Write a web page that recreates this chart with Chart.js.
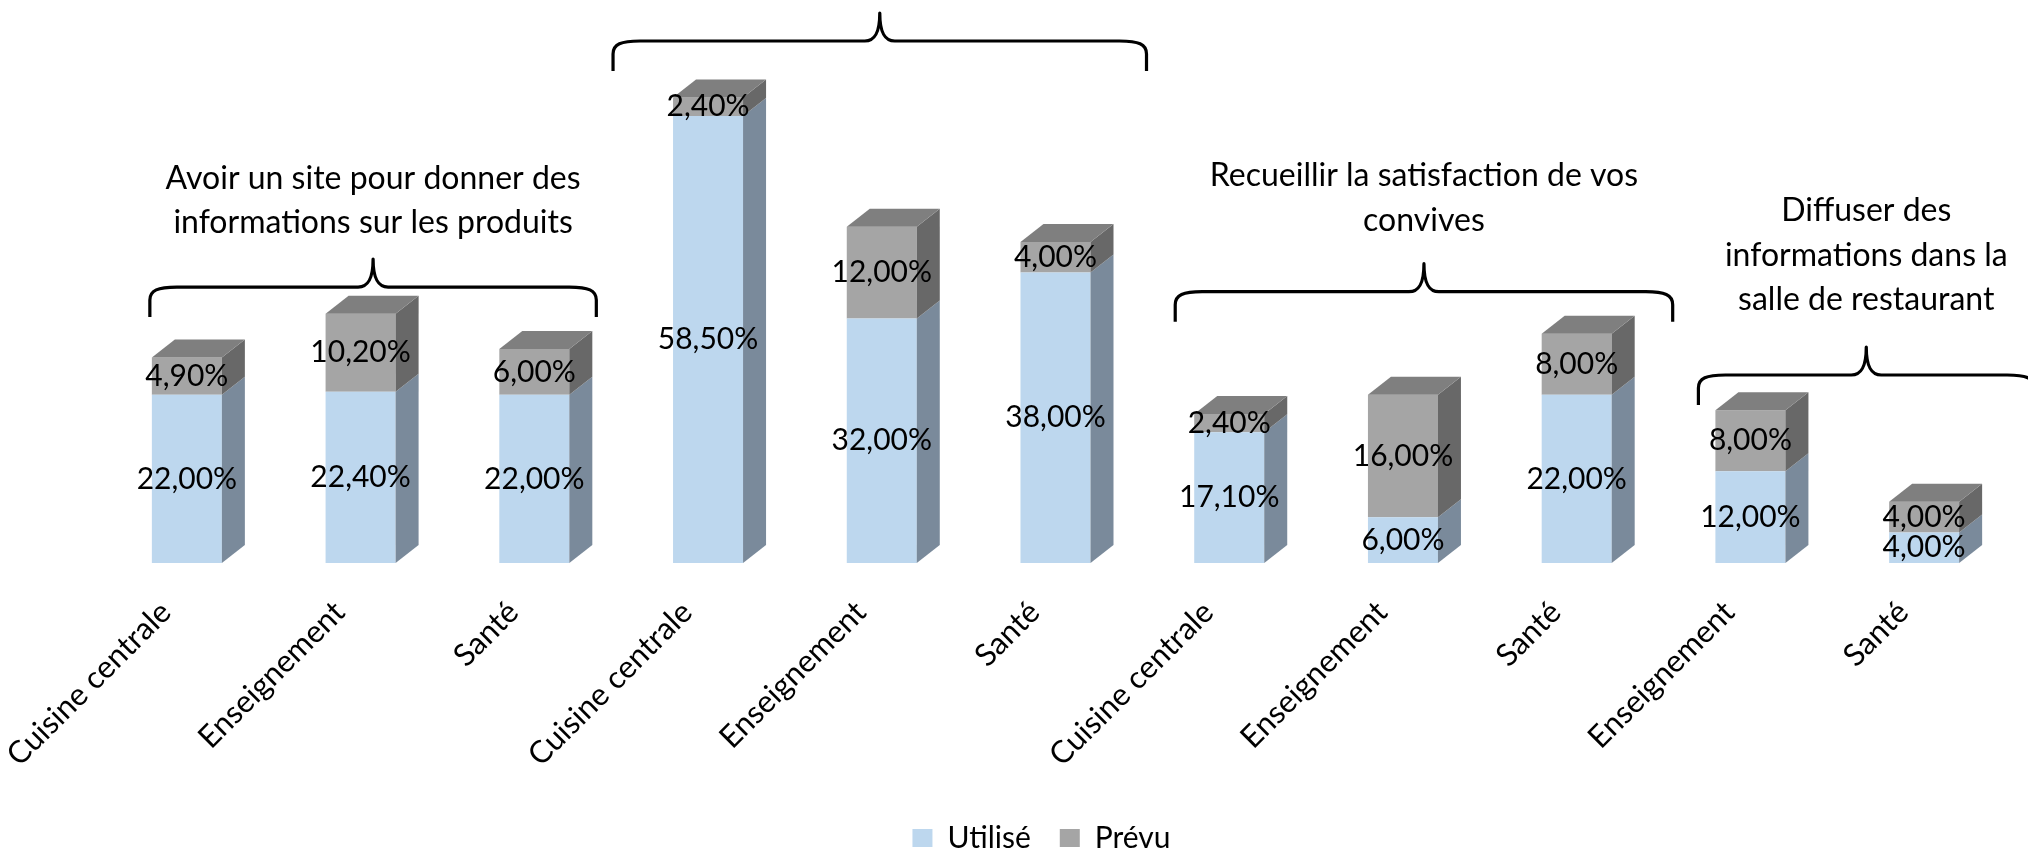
<!DOCTYPE html>
<html lang="fr">
<head>
<meta charset="utf-8">
<title>Utilisé / Prévu</title>
<script src="https://cdn.jsdelivr.net/npm/chart.js@4.4.1/dist/chart.umd.min.js"></script>
<style>
  html, body { margin: 0; padding: 0; background: #ffffff; }
  #wrap { width: 2028px; height: 852px; }
</style>
</head>
<body>
<div id="wrap"><canvas id="chart" width="2028" height="852"></canvas></div>
<script>
// ---- Data -------------------------------------------------------------
const categories = [
  'Cuisine centrale', 'Enseignement', 'Santé',
  'Cuisine centrale', 'Enseignement', 'Santé',
  'Cuisine centrale', 'Enseignement', 'Santé',
  'Enseignement', 'Santé'
];
const utiliseValues = [22.0, 22.4, 22.0, 58.5, 32.0, 38.0, 17.1, 6.0, 22.0, 12.0, 4.0];
const prevuValues   = [4.9, 10.2, 6.0, 2.4, 12.0, 4.0, 2.4, 16.0, 8.0, 8.0, 4.0];
const seriesNames = ['Utilisé', 'Prévu'];

// Groups of consecutive categories, each with its title above a brace
const groupSizes = [3, 3, 3, 2];
const groupTitles = [
  ['Avoir un site pour donner des', 'informations sur les produits'],
  [],
  ['Recueillir la satisfaction de vos', 'convives'],
  ['Diffuser des', 'informations dans la', 'salle de restaurant']
];

// ---- Styling ----------------------------------------------------------
const FONT = 'Lato, "Open Sans", sans-serif';
const faces = [
  { front: '#BDD7EE', side: '#7A8A9B', top: '#9DB2C6' },   // Utilisé
  { front: '#A5A5A5', side: '#686868', top: '#7F7F7F' }    // Prévu
];
const DEPTH_X = 23, DEPTH_Y = 18;
const PLOT_LEFT = 100;

// brace placement: level on the value axis, extra width (px) left/right, gap to text
const braceLayout = [
  { level: 36.1, padL: 2,  padR: 4,  textGap: 36 },
  { level: 68.3, padL: 60, padR: 33, textGap: 40 },
  { level: 35.5, padL: 19, padR: 38, textGap: 43 },
  { level: 24.6, padL: 17, padR: 52, textGap: 47 }
];

const fmt = v => v.toFixed(2).replace('.', ',') + '%';

// Draws the right side and top faces so every bar looks like a block
const blockFaces = {
  id: 'blockFaces',
  afterDatasetsDraw(chart) {
    const ctx = chart.ctx;
    const metas = chart.data.datasets.map((d, i) => chart.getDatasetMeta(i));
    ctx.save();
    categories.forEach((c, idx) => {
      let topMost = null, topDs = -1;
      metas.forEach((meta, di) => {
        const bar = meta.data[idx];
        const v = chart.data.datasets[di].data[idx];
        if (!bar || !v) return;
        const right = bar.x + bar.width / 2;
        ctx.fillStyle = faces[di].side;
        ctx.beginPath();
        ctx.moveTo(right, bar.y);
        ctx.lineTo(right + DEPTH_X, bar.y - DEPTH_Y);
        ctx.lineTo(right + DEPTH_X, bar.base - DEPTH_Y);
        ctx.lineTo(right, bar.base);
        ctx.closePath();
        ctx.fill();
        if (topMost === null || bar.y < topMost.y) { topMost = bar; topDs = di; }
      });
      if (topMost) {
        const l = topMost.x - topMost.width / 2, r = topMost.x + topMost.width / 2, y = topMost.y;
        ctx.fillStyle = faces[topDs].top;
        ctx.beginPath();
        ctx.moveTo(l, y);
        ctx.lineTo(l + DEPTH_X, y - DEPTH_Y);
        ctx.lineTo(r + DEPTH_X, y - DEPTH_Y);
        ctx.lineTo(r, y);
        ctx.closePath();
        ctx.fill();
      }
    });
    // value labels centred on each front face
    ctx.font = '30px ' + FONT;
    ctx.fillStyle = '#000000';
    ctx.textAlign = 'center';
    ctx.textBaseline = 'middle';
    metas.forEach((meta, di) => {
      meta.data.forEach((bar, idx) => {
        const v = chart.data.datasets[di].data[idx];
        if (!v) return;
        ctx.fillText(fmt(v), bar.x, (bar.y + bar.base) / 2);
      });
    });
    ctx.restore();
  }
};

// Curly braces with their titles over each group of bars
const groupBraces = {
  id: 'groupBraces',
  afterDraw(chart) {
    const ctx = chart.ctx;
    const meta = chart.getDatasetMeta(0);
    const yScale = chart.scales.y;
    let start = 0;
    ctx.save();
    groupSizes.forEach((size, g) => {
      const first = meta.data[start], last = meta.data[start + size - 1];
      const lay = braceLayout[g];
      const x1 = first.x - first.width / 2 - lay.padL;
      const x2 = last.x + last.width / 2 + DEPTH_X + lay.padR;
      const xc = (x1 + x2) / 2;
      const yl = yScale.getPixelForValue(lay.level);
      const yTip = yl + 30, yPeak = yl - 28;
      ctx.strokeStyle = '#000000';
      ctx.lineWidth = 3.2;
      ctx.lineJoin = 'round';
      ctx.beginPath();
      ctx.moveTo(x1, yTip);
      ctx.lineTo(x1, yl + 13);
      ctx.bezierCurveTo(x1, yl + 3, x1 + 8, yl, x1 + 27, yl);
      ctx.lineTo(xc - 15, yl);
      ctx.bezierCurveTo(xc - 5, yl, xc, yl - 8, xc, yPeak);
      ctx.bezierCurveTo(xc, yl - 8, xc + 5, yl, xc + 15, yl);
      ctx.lineTo(x2 - 27, yl);
      ctx.bezierCurveTo(x2 - 8, yl, x2, yl + 3, x2, yl + 13);
      ctx.lineTo(x2, yTip);
      ctx.stroke();

      const lines = groupTitles[g];
      ctx.font = '32px ' + FONT;
      ctx.fillStyle = '#000000';
      ctx.textAlign = 'center';
      ctx.textBaseline = 'middle';
      const lh = 44.5;
      lines.forEach((t, i) => {
        const y = yPeak - lay.textGap - (lines.length - 1 - i) * lh;
        ctx.fillText(t, xc, y);
      });
      start += size;
    });
    ctx.restore();
  }
};

new Chart(document.getElementById('chart'), {
  type: 'bar',
  data: {
    labels: categories,
    datasets: [
      { label: seriesNames[0], data: utiliseValues, backgroundColor: faces[0].front, borderWidth: 0 },
      { label: seriesNames[1], data: prevuValues, backgroundColor: faces[1].front, borderWidth: 0 }
    ]
  },
  options: {
    responsive: false,
    animation: false,
    devicePixelRatio: 1,
    barPercentage: 0.403,
    categoryPercentage: 1,
    layout: { padding: { left: 72, right: 17, top: 28, bottom: -11 } },
    scales: {
      x: {
        stacked: true,
        grid: { display: false, drawTicks: false },
        border: { display: false },
        ticks: {
          autoSkip: false,
          minRotation: 45,
          maxRotation: 45,
          padding: 31,
          labelOffset: -21,
          color: '#000000',
          font: { family: FONT, size: 31 }
        },
        afterFit(scale) {
          scale.height = 231;
          scale.paddingLeft = PLOT_LEFT;
          scale.paddingRight = 0;
        }
      },
      y: {
        stacked: true,
        display: false,
        min: 0,
        max: 70
      }
    },
    plugins: {
      legend: {
        position: 'bottom',
        labels: {
          boxWidth: 20,
          boxHeight: 18,
          padding: 29,
          color: '#000000',
          font: { family: FONT, size: 30 }
        }
      },
      tooltip: { enabled: false }
    }
  },
  plugins: [blockFaces, groupBraces]
});
</script>
</body>
</html>
